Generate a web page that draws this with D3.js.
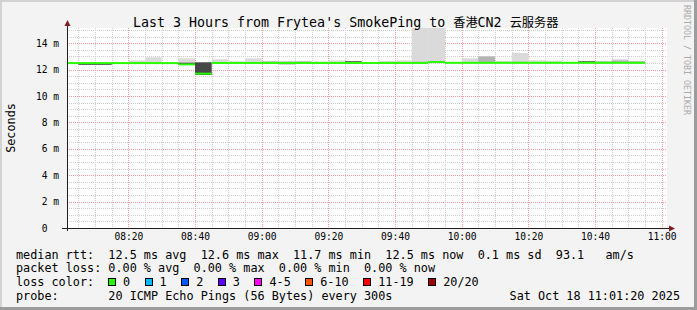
<!DOCTYPE html>
<html>
<head>
<meta charset="utf-8">
<script src="https://cdn.jsdelivr.net/npm/d3@7"></script>
<style>
  html, body { margin: 0; padding: 0; background: #f3f3f3; }
  svg { display: block; }
  text { font-family: "DejaVu Sans Mono", "Noto Sans CJK SC", monospace; white-space: pre; }
</style>
</head>
<body>
<svg id="chart"></svg>
<script>
// 5-minute slots (start time of each step)
const slotStart = [
  '08:00', '08:05', '08:10', '08:15', '08:20', '08:25', '08:30', '08:35', '08:40', '08:45', '08:50', '08:55',
  '09:00', '09:05', '09:10', '09:15', '09:20', '09:25', '09:30', '09:35', '09:40', '09:45', '09:50', '09:55',
  '10:00', '10:05', '10:10', '10:15', '10:20', '10:25', '10:30', '10:35', '10:40', '10:45', '10:50'
];

// median rtt per slot (ms)
const medianRtt = [
  12.50, 12.50, 12.50, 12.50, 12.50, 12.50, 12.50, 12.40, 11.70, 12.51, 12.51, 12.51,
  12.51, 12.51, 12.51, 12.51, 12.51, 12.51, 12.51, 12.51, 12.51, 12.51, 12.58, 12.52,
  12.52, 12.52, 12.52, 12.52, 12.52, 12.52, 12.52, 12.52, 12.52, 12.52, 12.52
];

// outer smoke (min / max ping, ms)
const smokeLo = [
  12.50, 12.37, 12.37, 12.50, 12.50, 12.50, 12.50, 12.40, 11.60, 12.50, 12.50, 12.50,
  12.50, 12.36, 12.50, 12.50, 12.50, 12.50, 12.50, 12.50, 12.50, 12.50, 12.55, 12.50,
  12.50, 12.50, 12.50, 12.50, 12.50, 12.50, 12.50, 12.50, 12.50, 12.50, 12.50
];
const smokeHi = [
  12.50, 12.55, 12.55, 12.58, 12.71, 12.94, 12.55, 12.86, 12.56, 12.79, 12.64, 12.86,
  12.66, 12.66, 12.66, 12.62, 12.71, 12.64, 12.55, 12.66, 12.71, 16.00, 16.00, 12.55,
  12.86, 13.02, 12.66, 13.27, 12.71, 12.68, 12.55, 12.64, 12.62, 12.79, 12.62
];

// middle smoke band (ms)
const midLo = [
  12.50, 12.50, 12.50, 12.50, 12.50, 12.50, 12.50, 12.50, 12.50, 12.50, 12.50, 12.50,
  12.50, 12.42, 12.50, 12.50, 12.50, 12.50, 12.50, 12.50, 12.50, 12.50, 12.50, 12.50,
  12.50, 12.50, 12.50, 12.50, 12.50, 12.50, 12.50, 12.50, 12.50, 12.50, 12.50
];
const midHi = [
  12.50, 12.50, 12.50, 12.50, 12.55, 12.55, 12.50, 12.55, 12.50, 12.55, 12.50, 12.55,
  12.62, 12.60, 12.62, 12.50, 12.55, 12.50, 12.50, 12.55, 12.55, 12.60, 12.60, 12.50,
  12.55, 13.00, 12.50, 12.60, 12.55, 12.55, 12.50, 12.50, 12.50, 12.70, 12.50
];

// inner (dark) smoke band (ms)
const innerLo = [
  12.50, 12.37, 12.37, 12.50, 12.50, 12.50, 12.50, 12.40, 11.60, 12.50, 12.50, 12.50,
  12.50, 12.50, 12.50, 12.50, 12.50, 12.50, 12.50, 12.50, 12.50, 12.50, 12.50, 12.50,
  12.50, 12.50, 12.50, 12.50, 12.50, 12.50, 12.50, 12.50, 12.50, 12.50, 12.50
];
const innerHi = [
  12.50, 12.50, 12.50, 12.50, 12.50, 12.50, 12.50, 12.52, 12.56, 12.50, 12.50, 12.50,
  12.58, 12.50, 12.50, 12.50, 12.50, 12.64, 12.50, 12.50, 12.50, 12.50, 12.50, 12.50,
  12.50, 12.50, 12.50, 12.50, 12.50, 12.50, 12.50, 12.64, 12.60, 12.50, 12.60
];

const xTickLabels = ['08:20', '08:40', '09:00', '09:20', '09:40', '10:00', '10:20', '10:40', '11:00'];
const yTickValues = [0, 2, 4, 6, 8, 10, 12, 14];

const lossLabels = ['0', '1', '2', '3', '4-5', '6-10', '11-19', '20/20'];
const lossColors = ['#26ff00', '#00b8ff', '#0059ff', '#5e00ff', '#ff00ff', '#ff5500', '#ff0000', '#a10000'];

const legendRtt = 'median rtt:  12.5 ms avg  12.6 ms max  11.7 ms min  12.5 ms now  0.1 ms sd  93.1   am/s';
const legendLoss = 'packet loss: 0.00 % avg  0.00 % max  0.00 % min  0.00 % now';
const legendProbe = 'probe:       20 ICMP Echo Pings (56 Bytes) every 300s';
const legendDate = 'Sat Oct 18 11:01:20 2025';

// ---------------------------------------------------------------
const W = 697, H = 310;
const P = { left: 67, right: 667, top: 28, bottom: 228 };
const day = '2025-10-18 ';
const parse = d3.timeParse('%Y-%m-%d %H:%M');
const parseS = d3.timeParse('%Y-%m-%d %H:%M:%S');

const svg = d3.select('#chart').attr('width', W).attr('height', H);

const x = d3.scaleTime()
  .domain([parseS(day + '08:01:36'), parseS(day + '11:01:36')])
  .range([P.left, P.right]);
const y = d3.scaleLinear().domain([0, 15.16]).range([P.bottom, P.top]);

// background + shaded frame
svg.append('rect').attr('width', W).attr('height', H).attr('fill', '#f3f3f3');
svg.append('path').attr('d', `M0,0H${W}V2H2V${H}H0Z`).attr('fill', '#d2d2d2');
svg.append('path').attr('d', `M${W},${H}H0V${H - 3}H${W - 3}V0H${W}Z`).attr('fill', '#9c9c9c');

// canvas
svg.append('rect')
  .attr('x', P.left).attr('y', P.top)
  .attr('width', P.right - P.left).attr('height', P.bottom - P.top)
  .attr('fill', '#ffffff');

svg.append('clipPath').attr('id', 'plot')
  .append('rect')
  .attr('x', P.left).attr('y', P.top)
  .attr('width', P.right - P.left).attr('height', P.bottom - P.top);

// grid
const majorTimes = xTickLabels.map((t) => parse(day + t));
const majorSet = new Set(majorTimes.map((d) => +d));
const minorTimes = x.ticks(d3.timeMinute.every(5)).filter((d) => !majorSet.has(+d));
const minorY = d3.range(0.5, 15.1, 0.5).filter((v) => v % 2 !== 0);
const majorY = yTickValues.filter((v) => v > 0);

const grid = svg.append('g').attr('shape-rendering', 'crispEdges').attr('stroke-dasharray', '1,1');
grid.selectAll('.vmin').data(minorTimes).join('line')
  .attr('x1', (d) => Math.round(x(d)) + 0.5).attr('x2', (d) => Math.round(x(d)) + 0.5)
  .attr('y1', P.top).attr('y2', P.bottom)
  .attr('stroke', '#cdcdcd');
grid.selectAll('.hmin').data(minorY).join('line')
  .attr('x1', P.left).attr('x2', P.right)
  .attr('y1', (d) => Math.round(y(d)) + 0.5).attr('y2', (d) => Math.round(y(d)) + 0.5)
  .attr('stroke', '#cdcdcd');
grid.selectAll('.vmaj').data(majorTimes).join('line')
  .attr('x1', (d) => Math.round(x(d)) + 0.5).attr('x2', (d) => Math.round(x(d)) + 0.5)
  .attr('y1', P.top).attr('y2', P.bottom)
  .attr('stroke', '#f19a9a');
grid.selectAll('.hmaj').data(majorY).join('line')
  .attr('x1', P.left).attr('x2', P.right)
  .attr('y1', (d) => Math.round(y(d)) + 0.5).attr('y2', (d) => Math.round(y(d)) + 0.5)
  .attr('stroke', '#f19a9a');

// smoke
const slots = slotStart.map((t) => {
  const s = parse(day + t);
  return { start: s, end: d3.timeMinute.offset(s, 5) };
});

const plot = svg.append('g').attr('clip-path', 'url(#plot)');
const bands = [
  { lo: smokeLo, hi: smokeHi, color: '#dadada' },
  { lo: midLo, hi: midHi, color: '#b4b4b4' },
  { lo: innerLo, hi: innerHi, color: '#474747' }
];
bands.forEach((b) => {
  plot.append('g')
    .selectAll('rect')
    .data(slots.map((s, i) => ({ ...s, lo: b.lo[i], hi: b.hi[i] })).filter((d) => d.hi > d.lo))
    .join('rect')
    .attr('x', (d) => x(d.start))
    .attr('width', (d) => x(d.end) - x(d.start))
    .attr('y', (d) => y(d.hi))
    .attr('height', (d) => y(d.lo) - y(d.hi))
    .attr('fill', b.color);
});

// median, coloured by loss (0 loss throughout)
plot.append('g')
  .selectAll('line')
  .data(slots.map((s, i) => ({ ...s, v: medianRtt[i] })))
  .join('line')
  .attr('x1', (d) => x(d.start))
  .attr('x2', (d) => x(d.end))
  .attr('y1', (d) => y(d.v))
  .attr('y2', (d) => y(d.v))
  .attr('stroke', lossColors[0])
  .attr('stroke-width', 2);

// axes lines and arrows
svg.append('line')
  .attr('x1', P.left - 5).attr('x2', P.right + 2)
  .attr('y1', P.bottom + 0.5).attr('y2', P.bottom + 0.5)
  .attr('stroke', '#1f1f1f').attr('shape-rendering', 'crispEdges');
svg.append('line')
  .attr('x1', P.left + 0.5).attr('x2', P.left + 0.5)
  .attr('y1', P.bottom + 3).attr('y2', P.top - 4)
  .attr('stroke', '#1f1f1f').attr('shape-rendering', 'crispEdges');
svg.append('path')
  .attr('d', `M${P.left + 0.5},${P.top - 8}L${P.left + 3.5},${P.top - 2}L${P.left - 2.5},${P.top - 2}Z`)
  .attr('fill', '#7f1f1f');
svg.append('path')
  .attr('d', `M${P.right + 8},${P.bottom + 0.5}L${P.right + 2},${P.bottom - 2.5}L${P.right + 2},${P.bottom + 3.5}Z`)
  .attr('fill', '#7f1f1f');

// axis labels
const xAxis = svg.append('g')
  .attr('transform', `translate(0,${P.bottom})`)
  .call(d3.axisBottom(x).tickValues(majorTimes).tickFormat(d3.timeFormat('%H:%M')).tickSize(0).tickPadding(5));
xAxis.select('.domain').remove();
xAxis.selectAll('text')
  .attr('font-family', '"DejaVu Sans Mono", monospace')
  .attr('font-size', '9.6px')
  .attr('fill', '#000');

const yAxis = svg.append('g')
  .attr('transform', `translate(${P.left},0)`)
  .call(d3.axisLeft(y).tickValues(yTickValues).tickFormat((v) => (v === 0 ? '0  ' : v + ' m')).tickSize(0).tickPadding(8));
yAxis.select('.domain').remove();
yAxis.selectAll('text')
  .attr('xml:space', 'preserve')
  .attr('font-family', '"DejaVu Sans Mono", monospace')
  .attr('font-size', '9.6px')
  .attr('fill', '#000');

// title
const title = svg.append('text')
  .attr('x', 133).attr('y', 26.5)
  .attr('font-size', '13.3px')
  .attr('fill', '#000')
  .attr('xml:space', 'preserve');
title.append('tspan').text("Last 3 Hours from Frytea's SmokePing to ");
title.append('tspan').attr('font-size', '12.2px').attr('font-family', '"Noto Sans CJK SC", sans-serif').text('香港');
title.append('tspan').text('CN2 ');
title.append('tspan').attr('font-size', '12.2px').attr('font-family', '"Noto Sans CJK SC", sans-serif').text('云服务器');

// y title
svg.append('text')
  .attr('transform', `translate(14.5,${(P.top + P.bottom) / 2}) rotate(-90)`)
  .attr('text-anchor', 'middle')
  .attr('font-size', '11.8px')
  .attr('fill', '#000')
  .text('Seconds');

// watermark
svg.append('text')
  .attr('transform', 'translate(683.5,5) rotate(90)')
  .attr('font-size', '8.3px')
  .attr('fill', '#aaaaaa')
  .text('RRDTOOL / TOBI OETIKER');

// legend
const legend = svg.append('g').attr('font-size', '11.8px').attr('fill', '#000');
legend.append('text').attr('x', 16).attr('y', 258.5).attr('xml:space', 'preserve').text(legendRtt);
legend.append('text').attr('x', 16).attr('y', 272).attr('xml:space', 'preserve').text(legendLoss);
legend.append('text').attr('x', 16).attr('y', 286).text('loss color:');
legend.append('text').attr('x', 16).attr('y', 300).attr('xml:space', 'preserve').text(legendProbe);
legend.append('text').attr('x', 680).attr('y', 300).attr('text-anchor', 'end').text(legendDate);

let bx = 108.5;
lossLabels.forEach((lab, i) => {
  legend.append('rect')
    .attr('x', bx).attr('y', 278.5)
    .attr('width', 7).attr('height', 7)
    .attr('fill', lossColors[i])
    .attr('stroke', '#000')
    .attr('shape-rendering', 'crispEdges');
  const t = legend.append('text').attr('x', bx + 14.5).attr('y', 286).text(lab);
  bx = bx + 14.5 + t.node().getComputedTextLength() + 15;
});
</script>
</body>
</html>
